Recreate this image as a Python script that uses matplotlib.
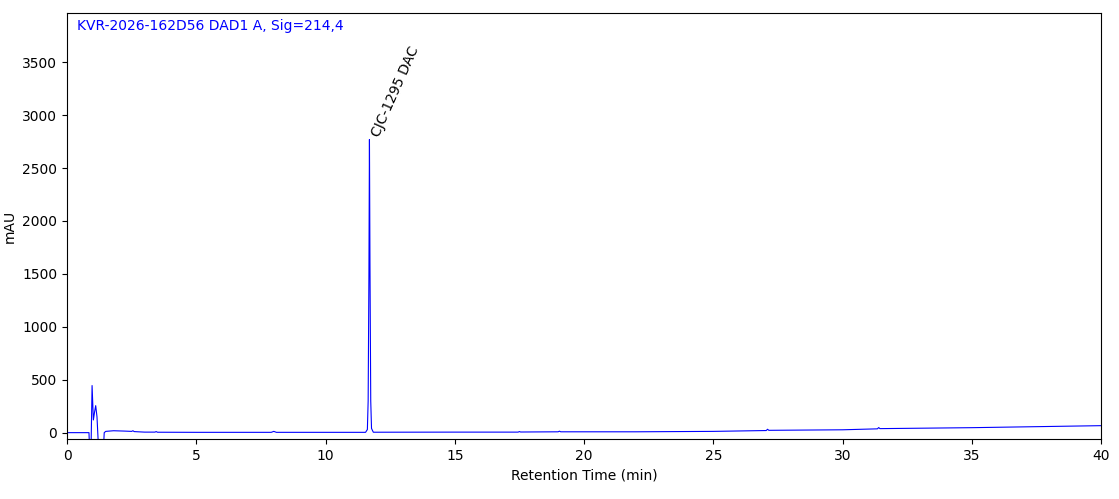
import matplotlib
matplotlib.use('Agg')
import matplotlib.pyplot as plt

# chromatogram trace (time in min, signal in mAU)
time_min = [0.0, 0.85, 0.88, 0.93, 0.97, 1.02, 1.07, 1.11, 1.16, 1.22, 1.30, 1.40, 1.44,
            1.50, 1.80, 2.20, 2.50, 2.55, 2.60, 3.00, 3.40, 3.45, 3.50, 5.00, 7.90, 8.00,
            8.10, 11.55, 11.62, 11.65, 11.68, 11.70, 11.72, 11.75, 11.78, 11.85, 15.0,
            17.45, 17.50, 17.55, 19.00, 19.05, 19.10, 22.0, 25.0, 27.05, 27.10, 27.15,
            30.0, 31.35, 31.40, 31.45, 35.0, 40.0]
signal_mau = [0, 0, -200, -150, 445, 120, 200, 255, 150, -150, -300, -200, 0,
              12, 18, 15, 12, 18, 10, 5, 5, 10, 4, 3, 3, 12,
              3, 3, 30, 300, 1500, 2770, 1600, 300, 40, 4, 5,
              5, 10, 6, 8, 14, 8, 8, 12, 20, 32, 22,
              27, 36, 48, 38, 47, 66]

peak_time = 11.70
peak_height = 2770
peak_name = 'CJC-1295 DAC'
trace_title = 'KVR-2026-162D56 DAD1 A, Sig=214,4'

fig = plt.figure(figsize=(11.19, 4.99), dpi=100)
ax = fig.add_axes([67/1119, 60/499, 1034/1119, 426/499])
ax.plot(time_min, signal_mau, color='blue', linewidth=0.8)
ax.text(peak_time, peak_height, peak_name, rotation=66, ha='left', va='bottom',
        fontsize=10)
ax.text(0.01, 0.985, trace_title, transform=ax.transAxes, color='blue',
        fontsize=10, ha='left', va='top')
ax.set_xlim(0, 40)
ax.set_ylim(-60, 3965)
ax.set_xticks([0, 5, 10, 15, 20, 25, 30, 35, 40])
ax.set_yticks([0, 500, 1000, 1500, 2000, 2500, 3000, 3500])
ax.set_xlabel('Retention Time (min)')
ax.set_ylabel('mAU')
fig.savefig('out.png', dpi=100)
